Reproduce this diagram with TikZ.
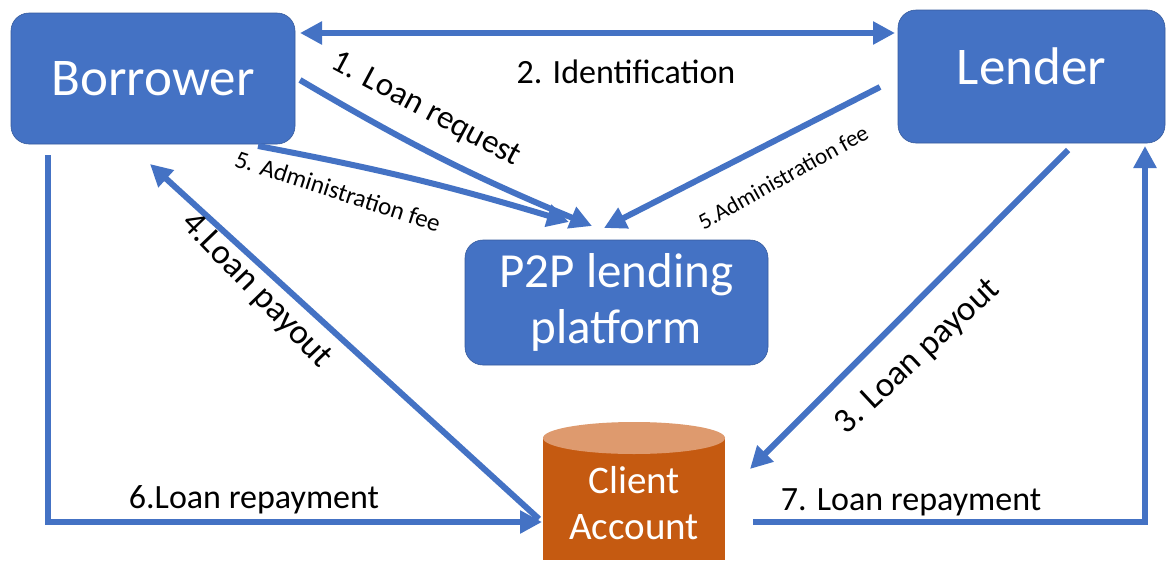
\documentclass[tikz,border=0pt]{standalone}
\usepackage{fontspec}
\setmainfont{Carlito}
\usetikzlibrary{arrows.meta}
\definecolor{boxblue}{HTML}{4472C4}
\definecolor{cylorange}{HTML}{C55A11}
\definecolor{cyltop}{HTML}{DE9A6E}
\tikzset{
  entity/.style={fill=boxblue, draw=boxblue!80!black, line width=0.6pt, rounded corners=18pt, text=white, align=center, inner sep=0pt},
  flow/.style={draw=boxblue, line width=6pt, -{Triangle[length=22pt,width=22pt]}},
  flowtwo/.style={draw=boxblue, line width=6pt, {Triangle[length=22pt,width=22pt]}-{Triangle[length=22pt,width=22pt]}},
  lbl/.style={text=black, inner sep=0pt}
}
\begin{document}
\begin{tikzpicture}[x=1pt,y=-1pt]
\useasboundingbox (0,0) rectangle (1176,560);
\fill[white] (0,0) rectangle (1176,560);
% boxes
\node[entity, minimum width=284pt, minimum height=131pt, font=\fontsize{53}{56}\selectfont] (bor) at (153,78.5) {Borrower};
\node[entity, minimum width=267pt, minimum height=133pt, font=\fontsize{53}{56}\selectfont] (len) at (1031.5,76.5) {\raisebox{20pt}{Lender}};
\node[entity, minimum width=303pt, minimum height=125pt, font=\fontsize{49}{56}\selectfont] (p2p) at (616.5,302.5) {P2P lending\\platform};
% cylinder
\fill[cylorange] (543,438) -- (543,560) -- (725,560) -- (725,438) -- cycle;
\fill[cyltop] (634,438) ellipse[x radius=91,y radius=16];
\node[lbl, text=white, align=center, font=\fontsize{39}{46}\selectfont, minimum width=182pt, minimum height=118pt] (acc) at (634,503) {Client\\Account};
% connector end points
\coordinate (idL) at (300,33);
\coordinate (idR) at (895,33);
\coordinate (lrS) at (300,80);
\coordinate (lrE) at (592,226);
\coordinate (afbS) at (258,146);
\coordinate (afbE) at (569,222);
\coordinate (aflS) at (880,87);
\coordinate (aflE) at (604,228);
\coordinate (p4S) at (539,519);
\coordinate (p4E) at (150,164);
\coordinate (p3S) at (1068,150);
\coordinate (p3E) at (750,469);
\coordinate (r6S) at (48,155);
\coordinate (r6C) at (48,522);
\coordinate (r6E) at (542,522);
\coordinate (r7S) at (753,522);
\coordinate (r7C) at (1145,522);
\coordinate (r7E) at (1145,146);
% connectors
\draw[flowtwo] (idL) -- (idR);
\draw[flow] (lrS) to[bend right=4] (lrE);
\draw[flow] (afbS) to[bend left=3] (afbE);
\draw[flow] (aflS) -- (aflE);
\draw[flow] (p4S) -- (p4E);
\draw[flow] (p3S) -- (p3E);
\draw[flow] (r6S) -- (r6C) -- (r6E);
\draw[flow] (r7S) -- (r7C) -- (r7E);
% labels
\node[lbl, font=\fontsize{34}{36}\selectfont] (t2) at (626,72) {2. Identification};
\node[lbl, font=\fontsize{33}{36}\selectfont, rotate=-28] (t1) at (426,110) {1. Loan request};
\node[lbl, font=\fontsize{25}{27}\selectfont, rotate=-18] (t5a) at (338,191) {5. Administration fee};
\node[lbl, font=\fontsize{23}{25}\selectfont, rotate=29] (t5b) at (783,177) {5.Administration fee};
\node[lbl, font=\fontsize{35}{37}\selectfont, rotate=-46] (t4) at (256,291) {4.Loan payout};
\node[lbl, font=\fontsize{35}{37}\selectfont, rotate=43] (t3) at (918,357) {3. Loan payout};
\node[lbl, font=\fontsize{34}{36}\selectfont] (t6) at (254,500) {6.Loan repayment};
\node[lbl, font=\fontsize{34}{36}\selectfont] (t7) at (911,502) {7. Loan repayment};
\end{tikzpicture}
\end{document}
